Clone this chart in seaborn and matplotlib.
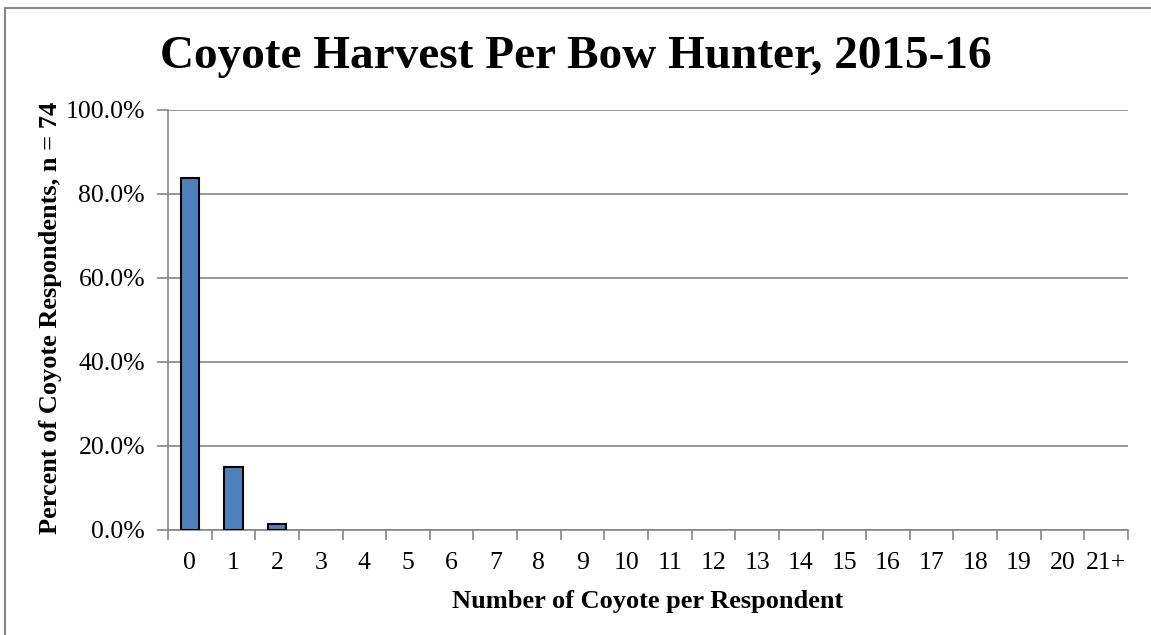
import numpy as np
import pandas as pd
import matplotlib.pyplot as plt
import seaborn as sns
from matplotlib.lines import Line2D
from matplotlib.ticker import FixedLocator, FuncFormatter

# ## Data ## #
categories = [str(i) for i in range(21)] + ["21+"]
percents = [83.8, 14.9, 1.4] + [0.0] * 19

df = pd.DataFrame({"harvest": categories, "percent": percents})

# ## Plot ## #
sns.set_style("white")
plt.rcParams["font.family"] = ["Liberation Serif", "DejaVu Serif"]
plt.rcParams["text.color"] = "black"
plt.rcParams["axes.labelcolor"] = "black"

fig = plt.figure(figsize=(11.51, 6.35), dpi=100)
ax = fig.add_axes([168 / 1151, 1 - 530 / 635, 960 / 1151, 420 / 635])

sns.barplot(data=df, x="harvest", y="percent", color="#4F81BD", width=0.42,
            edgecolor="black", linewidth=1.5, saturation=1, ax=ax, zorder=3)

# Empty categories get no outline
for bar in ax.patches:
    if bar.get_height() == 0:
        bar.set_linewidth(0)

# Grid and axes
ax.set_ylim(0, 100)
ax.set_xlim(-0.5, len(categories) - 0.5)
ax.set_yticks(np.arange(0, 101, 20))
ax.yaxis.set_major_formatter(FuncFormatter(lambda v, p: f"{v:.1f}%"))
ax.grid(axis="y", color="#868686", linewidth=1.2, zorder=0)
for side in ["top", "right"]:
    ax.spines[side].set_visible(False)
for side in ["left", "bottom"]:
    ax.spines[side].set_color("#868686")
    ax.spines[side].set_linewidth(1.2)

# Ticks between categories
ax.xaxis.set_minor_locator(FixedLocator(np.arange(-0.5, len(categories), 1)))
ax.tick_params(axis="x", which="major", bottom=True, length=0, labelsize=18.5, pad=15.5,
               labelcolor="black")
ax.tick_params(axis="x", which="minor", bottom=True, length=7, width=1.2, color="#868686",
               direction="out")
ax.tick_params(axis="y", left=True, length=8, width=1.2, color="#868686", direction="out",
               labelsize=18.5, labelcolor="black", pad=8.5)

ax.set_xlabel("Number of Coyote per Respondent", fontsize=19, fontweight="bold", labelpad=12)
ax.set_ylabel("Percent of Coyote Respondents, n = 74", fontsize=19, fontweight="bold")
ax.yaxis.set_label_coords(51 / 1151, 0.5, transform=fig.transFigure)
ax.yaxis.label.set_verticalalignment("center")
fig.text(0.5, 1 - 57 / 635, "Coyote Harvest Per Bow Hunter, 2015-16", ha="center", va="center",
         fontsize=34, fontweight="bold")

# Chart frame (only top and left edges fall inside the crop)
fig.lines.append(Line2D([5 / 1151, 1], [1 - 8 / 635, 1 - 8 / 635], transform=fig.transFigure,
                        color="#868686", linewidth=1.5))
fig.lines.append(Line2D([5 / 1151, 5 / 1151], [0, 1 - 8 / 635], transform=fig.transFigure,
                        color="#868686", linewidth=1.5))

fig.savefig("out.png", dpi=100)
